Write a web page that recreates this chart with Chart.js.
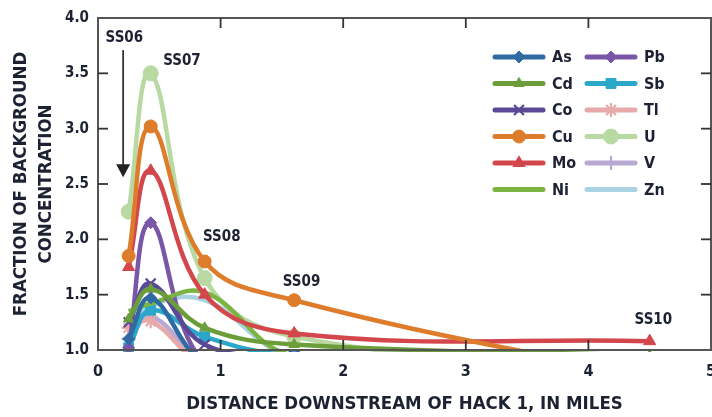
<!DOCTYPE html>
<html>
<head>
<meta charset="utf-8">
<script src="https://cdn.jsdelivr.net/npm/chart.js@4.4.1/dist/chart.umd.min.js"></script>
<style>
  html, body { margin: 0; padding: 0; background: #fff; overflow: hidden; }
  #wrap { width: 712px; height: 417px; position: relative; }
</style>
</head>
<body>
<div id="wrap"><canvas id="c"></canvas></div>
<script>
// ---- data ----
const distances = [0.25, 0.43, 0.87, 1.6, 4.5];           // miles downstream of Hack 1
const stations  = ['SS06', 'SS07', 'SS08', 'SS09', 'SS10'];
const elements  = ['As', 'Cd', 'Co', 'Cu', 'Mo', 'Ni', 'Pb', 'Sb', 'Tl', 'U', 'V', 'Zn'];
const As = [1.10, 1.47, 0.90, 0.90, 0.90];
const Cd = [1.28, 1.55, 1.20, 1.05, 0.95];
const Co = [1.25, 1.60, 1.05, 0.95, 0.90];
const Cu = [1.85, 3.02, 1.80, 1.45, 0.75];
const Mo = [1.75, 2.62, 1.50, 1.15, 1.08];
const Ni = [1.35, 1.42, 1.52, 0.95, 0.90];
const Pb = [1.02, 2.15, 0.88, 0.90, 0.90];
const Sb = [1.02, 1.36, 1.12, 0.95, 0.90];
const Tl = [1.20, 1.26, 0.88, 0.90, 0.90];
const U  = [2.25, 3.50, 1.65, 1.12, 0.85];
const V  = [1.10, 1.30, 0.92, 0.90, 0.90];
const Zn = [1.15, 1.40, 1.45, 0.95, 0.90];
const xTicks = [0, 1, 2, 3, 4, 5];
const yTicks = [1.0, 1.5, 2.0, 2.5, 3.0, 3.5, 4.0];

const seriesValues = [As, Cd, Co, Cu, Mo, Ni, Pb, Sb, Tl, U, V, Zn];

// ---- styling ----
const FONT = '"Liberation Sans Narrow", "DejaVu Sans Condensed", "Roboto Condensed", "Arial Narrow", "Liberation Sans", sans-serif';
const TEXT = '#1d2233';
const styles = {
  As: { color: '#2f6aa3', point: 'rectRot',  r: 6 },
  Cd: { color: '#6b9e3a', point: 'triangle', r: 6 },
  Co: { color: '#5b4897', point: 'crossRot', r: 7 },
  Cu: { color: '#dd7d2c', point: 'circle',   r: 6.5 },
  Mo: { color: '#d3474c', point: 'triangle', r: 7 },
  Ni: { color: '#7cb444', point: false,      r: 0 },
  Pb: { color: '#7a56a8', point: 'rectRot',  r: 6 },
  Sb: { color: '#2aa7c9', point: 'rect',     r: 7 },
  Tl: { color: '#e7a9a9', point: 'star',     r: 7 },
  U:  { color: '#b9d9a3', point: 'circle',   r: 7.5 },
  V:  { color: '#b7a9d2', point: 'cross',    r: 7 },
  Zn: { color: '#a9d2e2', point: false,      r: 0 }
};
const isStroked = p => p === 'crossRot' || p === 'cross' || p === 'star';

const datasets = elements.map((el, i) => {
  const s = styles[el];
  return {
    label: el,
    data: distances.map((d, j) => ({ x: d, y: seriesValues[i][j] })),
    borderColor: s.color,
    backgroundColor: s.color,
    pointBackgroundColor: s.color,
    pointBorderColor: s.color,
    pointStyle: s.point || 'circle',
    pointRadius: s.r,
    pointHoverRadius: s.r,
    pointBorderWidth: isStroked(s.point) ? 2.2 : 1,
    borderWidth: 4.5,
    tension: 0.4,
    fill: false,
    clip: { left: 4, top: 4, right: 4, bottom: 2 }
  };
});

// station labels (anchored in data coordinates)
const stationLabelX = [0.215, 0.685, 1.01, 1.66, 4.53];
const stationLabelY = [3.82, 3.61, 2.02, 1.61, 1.27];
const arrowX = 0.205, arrowTop = 3.71, arrowBottom = 2.56;

const decor = {
  id: 'decor',
  afterDatasetsDraw(chart) {
    const { ctx, chartArea: a, scales: { x, y } } = chart;
    ctx.save();
    // frame
    ctx.strokeStyle = '#555';
    ctx.lineWidth = 2;
    ctx.strokeRect(a.left, a.top, a.right - a.left, a.bottom - a.top);
    // inward ticks on all sides
    ctx.lineWidth = 1.8;
    ctx.strokeStyle = '#333';
    const tl = 10;
    xTicks.forEach(v => {
      if (v === xTicks[0] || v === xTicks[xTicks.length - 1]) return;
      const px = x.getPixelForValue(v);
      ctx.beginPath(); ctx.moveTo(px, a.bottom); ctx.lineTo(px, a.bottom - tl); ctx.stroke();
      ctx.beginPath(); ctx.moveTo(px, a.top); ctx.lineTo(px, a.top + tl); ctx.stroke();
    });
    yTicks.forEach(v => {
      if (v === yTicks[0] || v === yTicks[yTicks.length - 1]) return;
      const py = y.getPixelForValue(v);
      ctx.beginPath(); ctx.moveTo(a.left, py); ctx.lineTo(a.left + tl, py); ctx.stroke();
      ctx.beginPath(); ctx.moveTo(a.right, py); ctx.lineTo(a.right - tl, py); ctx.stroke();
    });

    // station labels
    ctx.fillStyle = TEXT;
    ctx.font = 'bold 15px ' + FONT;
    ctx.textAlign = 'center';
    ctx.textBaseline = 'middle';
    stations.forEach((st, i) => {
      ctx.fillText(st, x.getPixelForValue(stationLabelX[i]), y.getPixelForValue(stationLabelY[i]));
    });
    // arrow for SS06
    const ax = x.getPixelForValue(arrowX);
    const at = y.getPixelForValue(arrowTop), ab = y.getPixelForValue(arrowBottom);
    ctx.strokeStyle = '#333'; ctx.fillStyle = '#222'; ctx.lineWidth = 1.8;
    ctx.beginPath(); ctx.moveTo(ax, at); ctx.lineTo(ax, ab - 12); ctx.stroke();
    ctx.beginPath(); ctx.moveTo(ax - 7, ab - 13); ctx.lineTo(ax + 7, ab - 13); ctx.lineTo(ax, ab); ctx.closePath(); ctx.fill();

    // legend (two columns)
    const colX = [495, 587], lineW = 48, rowY0 = 57, rowH = 26.5;
    chart.data.datasets.forEach((ds, i) => {
      const col = i < 6 ? 0 : 1, row = i % 6;
      const x0 = colX[col], yy = rowY0 + row * rowH;
      const s = styles[ds.label];
      ctx.strokeStyle = s.color; ctx.lineWidth = 5; ctx.lineCap = 'round';
      ctx.beginPath(); ctx.moveTo(x0, yy); ctx.lineTo(x0 + lineW, yy); ctx.stroke();
      ctx.lineCap = 'butt';
      if (s.point) {
        ctx.fillStyle = s.color; ctx.strokeStyle = s.color;
        ctx.lineWidth = isStroked(s.point) ? 2.2 : 1;
        Chart.helpers.drawPoint(ctx, { pointStyle: s.point, radius: s.r, rotation: 0, borderWidth: ctx.lineWidth }, x0 + lineW / 2, yy);
      }
      ctx.fillStyle = TEXT;
      ctx.font = 'bold 16px ' + FONT;
      ctx.textAlign = 'left';
      ctx.textBaseline = 'middle';
      ctx.fillText(ds.label, x0 + lineW + 9, yy + 1);
    });
    ctx.restore();
  }
};

const noPad = () => ({ left: 0, top: 0, right: 0, bottom: 0 });

new Chart(document.getElementById('c'), {
  type: 'line',
  data: { datasets },
  options: {
    responsive: true,
    maintainAspectRatio: false,
    animation: false,
    events: [],
    layout: { autoPadding: false, padding: { top: 18, right: 1, left: 0, bottom: 0 } },
    plugins: { legend: { display: false }, tooltip: { enabled: false } },
    scales: {
      x: {
        type: 'linear', min: 0, max: 5,
        afterBuildTicks(s) { s.ticks = xTicks.map(v => ({ value: v })); },
        ticks: { color: TEXT, font: { family: FONT, size: 16, weight: 'bold' }, padding: 12, maxRotation: 0 },
        grid: { display: false, drawTicks: false },
        border: { display: false },
        title: {
          display: true, text: 'DISTANCE DOWNSTREAM OF HACK 1, IN MILES', color: TEXT,
          font: { family: FONT, size: 18.5, weight: 'bold', lineHeight: 1.2 },
          padding: { top: 0, bottom: 2 }
        },
        afterFit(s) {
          s.height = 67; s.paddingLeft = 0; s.paddingRight = 0;
          s.getPadding = noPad;
        }
      },
      y: {
        type: 'linear', min: 1, max: 4,
        afterBuildTicks(s) { s.ticks = yTicks.map(v => ({ value: v })); },
        ticks: { color: TEXT, font: { family: FONT, size: 15, weight: 'bold' }, padding: 9,
                 callback: v => Number(v).toFixed(1) },
        grid: { display: false, drawTicks: false },
        border: { display: false },
        title: {
          display: true, text: ['FRACTION OF BACKGROUND', 'CONCENTRATION'], color: TEXT,
          font: { family: FONT, size: 18.5, weight: 'bold', lineHeight: 1.35 },
          padding: { top: 9, bottom: 0 }
        },
        afterFit(s) {
          s.width = 98; s.paddingTop = 0; s.paddingBottom = 0;
          s.getPadding = noPad;
        }
      }
    }
  },
  plugins: [decor]
});
</script>
</body>
</html>
